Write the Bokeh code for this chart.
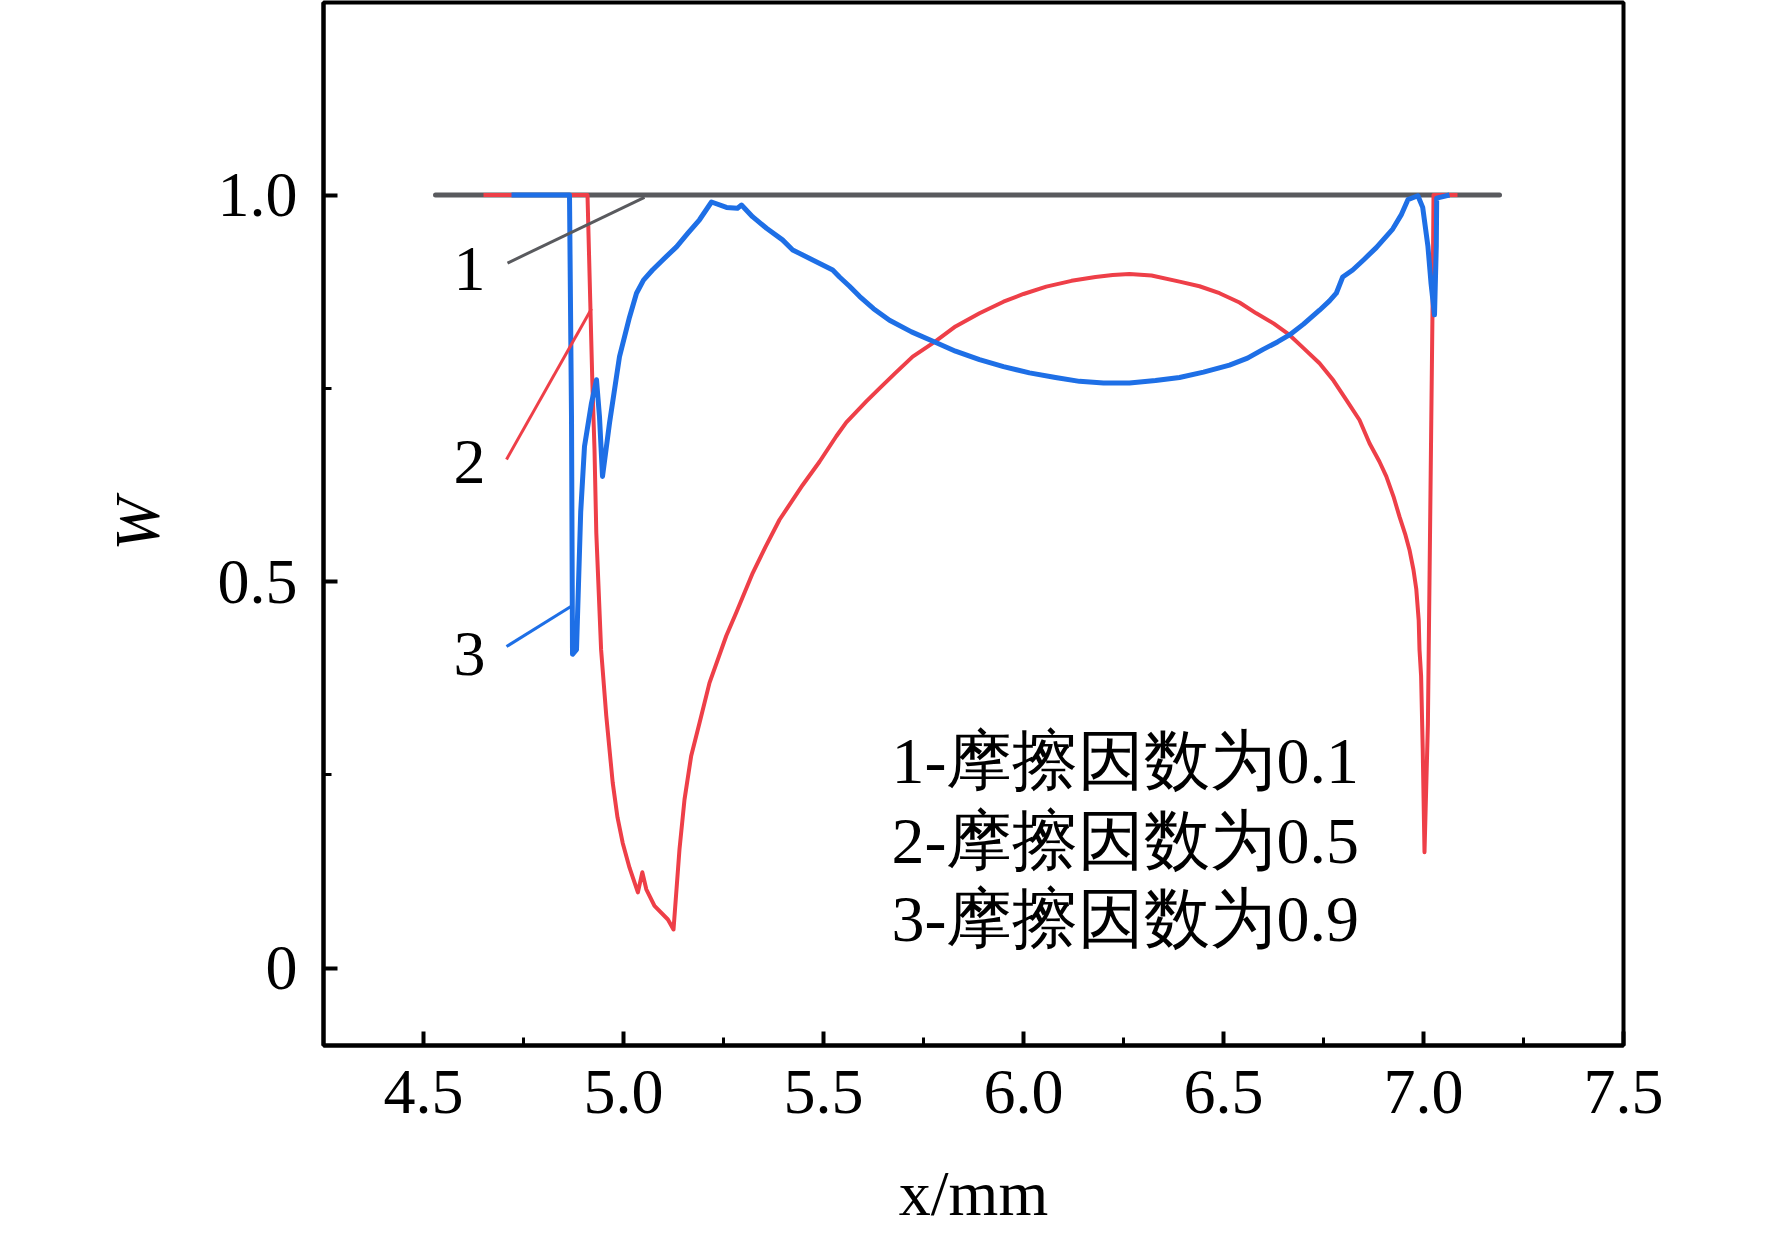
from bokeh.plotting import figure
from bokeh.models import FixedTicker, CustomJSTickFormatter, ColumnDataSource, Range1d
from bokeh.core.properties import value
from bokeh.embed import file_html
from bokeh.resources import INLINE

# friction 0.1 (flat)
gray_x = [4.53, 7.19]
gray_y = [1.0, 1.0]

# friction 0.5
red_x = [4.65, 4.91, 4.917, 4.922, 4.9275, 4.932, 4.944, 4.957, 4.973, 4.985, 4.998, 5.015, 5.036,
         5.047, 5.057, 5.0775, 5.111, 5.125, 5.14, 5.1525, 5.169, 5.19, 5.215, 5.257, 5.282, 5.323,
         5.355, 5.39, 5.448, 5.49, 5.532, 5.557, 5.607, 5.64, 5.68, 5.723, 5.778, 5.83, 5.89, 5.95,
         6.0, 6.057, 6.12, 6.18, 6.223, 6.265, 6.32, 6.39, 6.44, 6.49, 6.54, 6.582, 6.625, 6.665,
         6.70, 6.74, 6.775, 6.807, 6.84, 6.865, 6.89, 6.907, 6.925, 6.94, 6.955, 6.965, 6.975, 6.982,
         6.988, 6.99, 6.994, 6.998, 7.0025, 7.011, 7.015, 7.019, 7.023, 7.025, 7.085]
red_y = [1.0, 1.0, 0.86, 0.76, 0.671, 0.563, 0.412, 0.326, 0.240, 0.195, 0.162, 0.13, 0.098,
         0.124, 0.102, 0.0805, 0.063, 0.050, 0.154, 0.218, 0.274, 0.317, 0.369, 0.43, 0.46, 0.511,
         0.545, 0.58, 0.625, 0.655, 0.688, 0.706, 0.733, 0.75, 0.77, 0.791, 0.810, 0.83, 0.847, 0.862,
         0.872, 0.8815, 0.889, 0.894, 0.8966, 0.898, 0.896, 0.888, 0.882, 0.873, 0.861, 0.847, 0.834, 0.819,
         0.802, 0.7825, 0.76, 0.735, 0.709, 0.679, 0.655, 0.636, 0.61, 0.584, 0.56, 0.541, 0.515, 0.490,
         0.45, 0.412, 0.378, 0.285, 0.150, 0.316, 0.501, 0.687, 0.873, 1.0, 1.0]

# friction 0.9
blue_x = [4.72, 4.865, 4.87, 4.8725, 4.8825, 4.893, 4.9025, 4.92, 4.9325, 4.94, 4.9475, 4.965, 4.99,
          5.015, 5.0325, 5.05, 5.0725, 5.10, 5.1325, 5.16, 5.19, 5.22, 5.2575, 5.285, 5.295, 5.3225,
          5.3575, 5.3975, 5.423, 5.473, 5.523, 5.54, 5.565, 5.59, 5.625, 5.665, 5.72, 5.778, 5.83,
          5.89, 5.95, 6.015, 6.08, 6.14, 6.2, 6.265, 6.33, 6.39, 6.45, 6.515, 6.56, 6.598, 6.635,
          6.665, 6.70, 6.74, 6.765, 6.782, 6.798, 6.823, 6.85, 6.882, 6.923, 6.945, 6.961, 6.986,
          6.998, 7.011, 7.019, 7.0275, 7.032, 7.033, 7.065]
blue_y = [1.0, 1.0, 0.713, 0.406, 0.412, 0.59, 0.675, 0.731, 0.761, 0.713, 0.636, 0.705, 0.791,
          0.842, 0.873, 0.89, 0.903, 0.917, 0.933, 0.95, 0.968, 0.991, 0.984, 0.983, 0.987, 0.972,
          0.957, 0.942, 0.929, 0.916, 0.903, 0.894, 0.882, 0.869, 0.853, 0.838, 0.823, 0.810, 0.798,
          0.787, 0.778, 0.770, 0.764, 0.759, 0.757, 0.757, 0.76, 0.764, 0.771, 0.780, 0.789, 0.80, 0.81,
          0.819, 0.833, 0.851, 0.863, 0.873, 0.894, 0.903, 0.916, 0.932, 0.956, 0.975, 0.994, 0.999,
          0.984, 0.934, 0.885, 0.845, 0.934, 0.996, 1.0]

x_ticks = [4.5, 5.0, 5.5, 6.0, 6.5, 7.0, 7.5]
x_minor = [4.75, 5.25, 5.75, 6.25, 6.75, 7.25]
y_ticks = [0, 0.5, 1.0]
y_minor = [0.25, 0.75]

curve_names = ["1", "2", "3"]
legend_lines = ["1-摩擦因数为0.1", "2-摩擦因数为0.5", "3-摩擦因数为0.9"]

GRAY = "#595a5e"
RED = "#ee3f48"
BLUE = "#1e6fe6"
FONT = "Liberation Serif"

p = figure(width=1760, height=1231, output_backend="svg", toolbar_location=None,
           x_range=Range1d(4.25, 7.5), y_range=Range1d(-0.1, 1.249),
           min_border_left=323, min_border_right=137, min_border_top=2, min_border_bottom=185)
p.grid.visible = False
p.outline_line_color = "black"
p.outline_line_width = 4
p.background_fill_color = "white"
p.border_fill_color = "white"

p.xaxis.ticker = FixedTicker(ticks=x_ticks, minor_ticks=x_minor)
p.yaxis.ticker = FixedTicker(ticks=y_ticks, minor_ticks=y_minor)
p.xaxis.formatter = CustomJSTickFormatter(code="return tick.toFixed(1)")
p.yaxis.formatter = CustomJSTickFormatter(code="return tick == 0 ? '0' : tick.toFixed(1)")
for ax in (p.xaxis, p.yaxis):
    ax.axis_line_width = 4
    ax.axis_line_color = "black"
    ax.major_tick_in = 14
    ax.major_tick_out = 0
    ax.minor_tick_in = 8
    ax.minor_tick_out = 0
    ax.major_tick_line_width = 4
    ax.minor_tick_line_width = 3
    ax.major_tick_line_color = "black"
    ax.minor_tick_line_color = "black"
    ax.major_label_text_font = FONT
    ax.major_label_text_font_size = "64px"
    ax.major_label_text_color = "black"
    ax.axis_label_text_font = FONT
    ax.axis_label_text_font_size = "64px"
    ax.axis_label_text_color = "black"
p.xaxis.major_label_standoff = 25
p.yaxis.major_label_standoff = 26

p.yaxis.axis_label = "W"
p.yaxis.axis_label_text_font_style = "italic"
p.yaxis.axis_label_standoff = 42

p.xaxis.axis_label = "x/mm"
p.xaxis.axis_label_text_font_style = "normal"
p.xaxis.axis_label_standoff = 42

# curves
p.line(gray_x, gray_y, line_color=GRAY, line_width=5, line_cap="round")
p.line(red_x, red_y, line_color=RED, line_width=4, line_join="round")
p.line(blue_x, blue_y, line_color=BLUE, line_width=5, line_join="round")

# leader lines to curve numbers
p.line([4.71, 5.0525], [0.912, 0.997], line_color=GRAY, line_width=3)
p.line([4.7075, 4.92], [0.658, 0.853], line_color=RED, line_width=3)
p.line([4.7075, 4.8725], [0.416, 0.469], line_color=BLUE, line_width=3)

num_src = ColumnDataSource(dict(x=[4.615, 4.615, 4.615], y=[0.904, 0.655, 0.406], t=curve_names))
p.text(x="x", y="y", text="t", source=num_src, text_font=value(FONT), text_font_size="64px",
       text_align="center", text_baseline="alphabetic", text_color="black")

leg_src = ColumnDataSource(dict(x=[5.67, 5.67, 5.67], y=[0.2686, 0.165, 0.0645], t=legend_lines))
p.text(x="x", y="y", text="t", source=leg_src, text_font=value(FONT), text_font_size="66px",
       text_align="left", text_baseline="alphabetic", text_color="black")

open("out.html", "w").write(file_html(p, INLINE))
